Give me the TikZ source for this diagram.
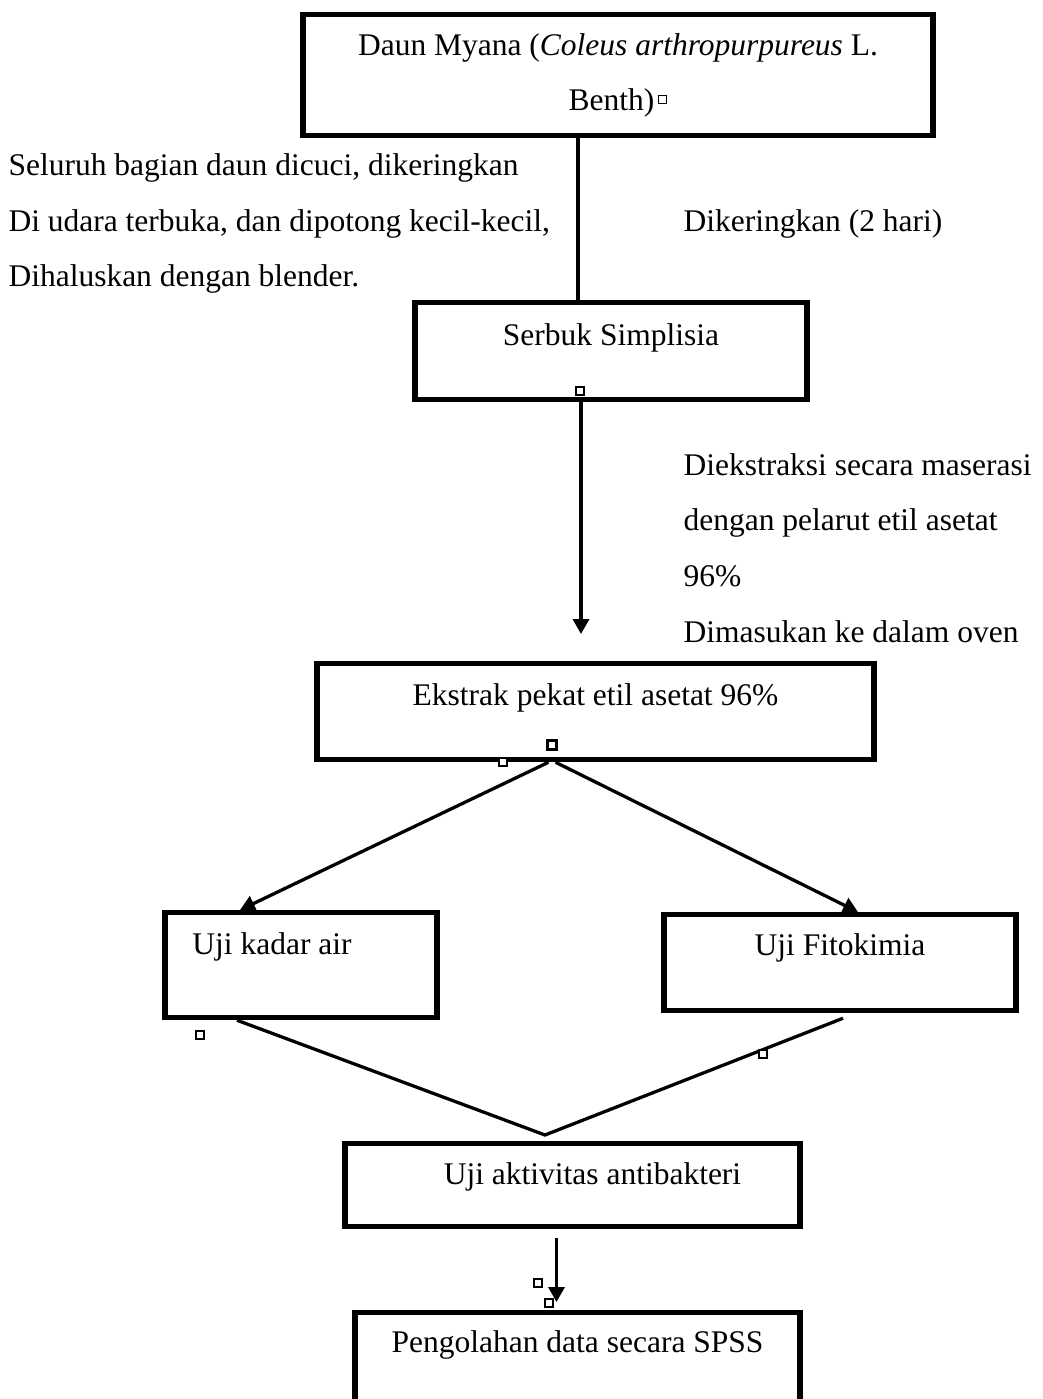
\documentclass[tikz,border=0pt]{standalone}
\usepackage{fontspec}
\setmainfont{Liberation Serif}
\usetikzlibrary{arrows.meta}

\newdimen\pxu \pxu=0.381pt
\newcommand\pxl[1]{\the\dimexpr#1\pxu\relax}
\newcommand\ghostsq{\hspace{1.5pt}\raisebox{3pt}{\fboxsep=0pt\fboxrule=0.4pt\fbox{\rule{0pt}{2.6pt}\rule{2.6pt}{0pt}}}}

\tikzset{
  box/.style={draw, line width=2pt, inner sep=0pt, anchor=north, align=center},
  note/.style={inner sep=0pt, align=left, anchor=base west},
  link/.style={line width=1.25pt},
  arr/.style={link, -{Triangle[length=5.7pt,width=6.1pt]}},
  ghost/.style={draw, fill=white, line width=0.4pt, inner sep=0pt, minimum size=\pxl{8}}
}

\begin{document}
\begin{tikzpicture}[x=0.381pt, y=-0.381pt,
    every node/.append style={font=\fontsize{12pt}{21.15pt}\selectfont}]
    \useasboundingbox (0,0) rectangle (1043,1399);
    % boxes
    \node[box, minimum width=\pxl{630}, text height=\pxl{96}, text depth=\pxl{25}] (leaf) at (618,12)
      {Daun Myana (\textit{Coleus arthropurpureus} L.\\Benth)\ghostsq};
    \node[box, minimum width=\pxl{392}, text height=\pxl{43}, text depth=\pxl{54}] (powder) at (611,300) {Serbuk Simplisia};
    \node[box, minimum width=\pxl{557}, text height=\pxl{42}, text depth=\pxl{54}] (extract) at (595.5,661) {Ekstrak pekat etil asetat 96\%};
    \node[box, minimum width=\pxl{272}, text height=\pxl{42}, text depth=\pxl{63}] (water) at (301,910) {Uji kadar air\kern\pxl{58}};
    \node[box, minimum width=\pxl{352}, text height=\pxl{41}, text depth=\pxl{55}] (phyto) at (840,912) {Uji Fitokimia};
    \node[box, minimum width=\pxl{455}, text height=\pxl{41}, text depth=\pxl{42}] (assay) at (572.5,1141) {\kern\pxl{40}Uji aktivitas antibakteri};
    \node[box, minimum width=\pxl{445}, text height=\pxl{40}, text depth=\pxl{55}] (spss) at (577.5,1310) {Pengolahan data secara SPSS};
    % side notes (base = last line)
    \node[note] (wash) at (8,287) {Seluruh bagian daun dicuci, dikeringkan\\Di udara terbuka, dan dipotong kecil-kecil,\\Dihaluskan dengan blender.};
    \node[note] (dry) at (683,232) {Dikeringkan (2 hari)};
    \node[note] (macer) at (683,642) {Diekstraksi secara maserasi\\dengan pelarut etil asetat\\96\%\\Dimasukan ke dalam oven};
    % connectors
    \coordinate (gap) at (581,634);
    \coordinate (meet) at (545,1135);
    \draw[link] ([xshift=\pxl{-40}]leaf.south) -- ([xshift=\pxl{-33}]powder.north);
    \draw[arr] ([xshift=\pxl{-30}]powder.south) -- (gap);
    \draw[arr] ([xshift=\pxl{-47}]extract.south) -- ([xshift=\pxl{-61}]water.north);
    \draw[arr] ([xshift=\pxl{-40}]extract.south) -- ([xshift=\pxl{18}]phyto.north);
    \draw[link] ([xshift=\pxl{-64}]water.south) -- (meet) -- ([xshift=\pxl{3},yshift=\pxl{-5}]phyto.south);
    \draw[arr] ([xshift=\pxl{-16},yshift=\pxl{-9}]assay.south) -- ([xshift=\pxl{-21},yshift=\pxl{8}]spss.north);
    % stray anchor marks
    \foreach \x/\y [count=\i] in {580/391, 503/762, 200/1035, 763/1054, 538/1283, 549/1303}
      \node[ghost] (g\i) at (\x,\y) {};
    \node[ghost, line width=1.1pt, minimum size=\pxl{9}] (g0) at (552,745) {};
\end{tikzpicture}
\end{document}
